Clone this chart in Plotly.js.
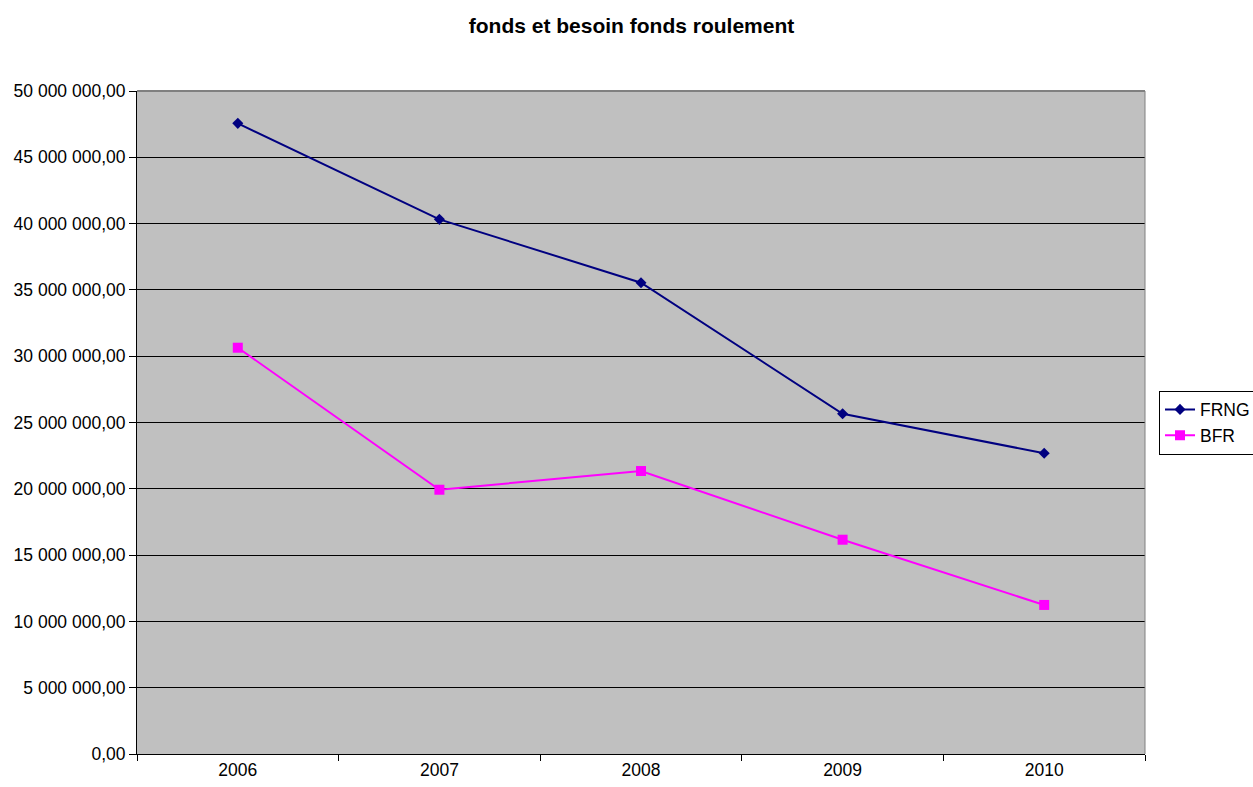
<!DOCTYPE html>
<html><head><meta charset="utf-8">
<script src="https://cdn.plot.ly/plotly-3.0.1.min.js"></script>
<style>html,body{margin:0;padding:0;background:#fff;}#chart{width:1253px;height:787px;}</style>
</head><body><div id="chart"></div>
<script>
var years = ['2006', '2007', '2008', '2009', '2010'];
var frng = [47560000, 40320000, 35540000, 25660000, 22680000];
var bfr = [30640000, 19930000, 21340000, 16160000, 11240000];
var yTicks = [0, 5000000, 10000000, 15000000, 20000000, 25000000, 30000000, 35000000, 40000000, 45000000, 50000000];

var traces = [
  {x: years, y: frng, name: 'FRNG', type: 'scatter', mode: 'lines+markers',
   line: {color: '#000080', width: 2}, marker: {symbol: 'diamond', size: 8.5, color: '#000080'}},
  {x: years, y: bfr, name: 'BFR', type: 'scatter', mode: 'lines+markers',
   line: {color: '#FF00FF', width: 2}, marker: {symbol: 'square', size: 10, color: '#FF00FF'}}
];

var layout = {
  width: 1253, height: 787,
  margin: {l: 137, r: 108, t: 91, b: 33, autoexpand: false},
  paper_bgcolor: '#ffffff', plot_bgcolor: '#C0C0C0',
  separators: ', ',
  font: {family: 'Liberation Sans, Arial, sans-serif', size: 17.5, color: '#000'},
  title: {text: '<b>fonds et besoin fonds roulement</b>', x: 0.504, xanchor: 'center', y: 0.967, yanchor: 'middle',
          font: {size: 21, color: '#000'}},
  showlegend: true,
  legend: {x: 1.0139, xanchor: 'left', y: 0.50, yanchor: 'middle', bgcolor: '#fff', bordercolor: '#000', borderwidth: 1,
           font: {size: 17.5}, tracegroupgap: 0},
  xaxis: {type: 'category', tickson: 'boundaries', ticks: 'outside', ticklen: 6, tickcolor: '#000',
          showgrid: false, showline: true, linecolor: '#000', linewidth: 1, zeroline: false,
          tickfont: {size: 17.5}, range: [-0.5, 4.5]},
  yaxis: {range: [0, 50000000], tickvals: yTicks, tickformat: ',.2f', ticks: 'outside', ticklen: 7, tickcolor: '#000',
          showgrid: true, gridcolor: '#000', gridwidth: 1, showline: true, linecolor: '#000', linewidth: 1,
          zeroline: false, tickfont: {size: 17.5}},
  shapes: [
    {type: 'line', xref: 'paper', yref: 'paper', x0: 0, x1: 1, y0: 1, y1: 1, line: {color: '#808080', width: 2}},
    {type: 'line', xref: 'paper', yref: 'paper', x0: 1, x1: 1, y0: 0, y1: 1, line: {color: '#808080', width: 1}}
  ]
};
Plotly.newPlot('chart', traces, layout, {displayModeBar: false, responsive: false});
</script></body></html>
